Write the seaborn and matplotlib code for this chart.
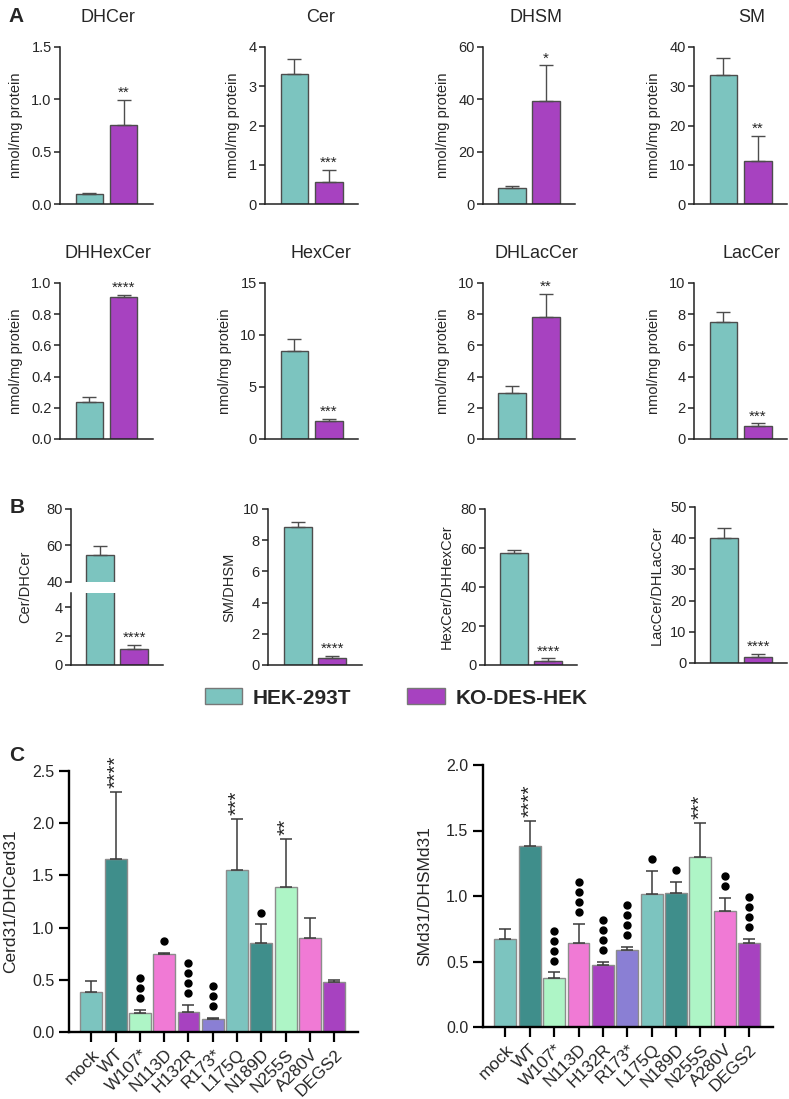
import matplotlib
matplotlib.use('Agg')
import matplotlib.pyplot as plt
import matplotlib.transforms as mtransforms
from matplotlib.patches import Patch
import seaborn as sns

sns.set_style('ticks')
plt.rcParams['font.family'] = ['Liberation Sans', 'DejaVu Sans']

# ---- data ----
groups = ['HEK-293T', 'KO-DES-HEK']

# panel A: nmol/mg protein
lipids = ['DHCer', 'Cer', 'DHSM', 'SM', 'DHHexCer', 'HexCer', 'DHLacCer', 'LacCer']
hek_A = [0.10, 3.31, 6.0, 32.9, 0.235, 8.49, 2.93, 7.48]
hek_A_err = [0.005, 0.38, 0.9, 4.3, 0.035, 1.1, 0.49, 0.66]
ko_A = [0.755, 0.57, 39.4, 11.0, 0.912, 1.73, 7.84, 0.81]
ko_A_err = [0.24, 0.30, 13.6, 6.3, 0.01, 0.2, 1.47, 0.19]
sig_A = ['**', '***', '*', '**', '****', '***', '**', '***']

# panel B: ratios
ratios = ['Cer/DHCer', 'SM/DHSM', 'HexCer/DHHexCer', 'LacCer/DHLacCer']
hek_B = [55.0, 8.87, 57.6, 40.0]
hek_B_err = [4.7, 0.32, 1.5, 3.2]
ko_B = [1.08, 0.43, 2.2, 1.9]
ko_B_err = [0.32, 0.17, 1.2, 0.9]
sig_B = ['****', '****', '****', '****']

# panel C: d31 ratios per construct
mutants = ['mock', 'WT', 'W107*', 'N113D', 'H132R', 'R173*', 'L175Q', 'N189D', 'N255S', 'A280V', 'DEGS2']
cer_ratio = [0.38, 1.66, 0.185, 0.744, 0.19, 0.12, 1.55, 0.85, 1.39, 0.90, 0.476]
cer_err = [0.11, 0.64, 0.025, 0.016, 0.07, 0.017, 0.49, 0.18, 0.46, 0.19, 0.025]
cer_stars = ['', '****', '', '', '', '', '***', '', '**', '', '']
cer_dots = [0, 0, 3, 1, 4, 3, 0, 1, 0, 0, 0]
sm_ratio = [0.67, 1.384, 0.372, 0.644, 0.476, 0.585, 1.018, 1.025, 1.295, 0.888, 0.639]
sm_err = [0.08, 0.19, 0.045, 0.14, 0.02, 0.025, 0.175, 0.08, 0.26, 0.10, 0.035]
sm_stars = ['', '****', '', '', '', '', '', '', '***', '', '']
sm_dots = [0, 0, 4, 4, 4, 4, 1, 1, 0, 2, 4]

teal = '#7cc4bf'
purple = '#a742c0'
mut_colors = ['#7cc4bf', '#3f8e8b', '#aef5c6', '#f07ad5', '#a742c0', '#8a7fd4',
              '#7cc4bf', '#3f8e8b', '#aef5c6', '#f07ad5', '#a742c0']
edge = '#4d4d4d'

W, H = 789, 1099
fig = plt.figure(figsize=(W / 100, H / 100), dpi=100)


def rect(x0, y0, x1, y1):
    return [x0 / W, 1 - y1 / H, (x1 - x0) / W, (y1 - y0) / H]


def style_small(ax):
    sns.despine(ax=ax)
    for s in ['left', 'bottom']:
        ax.spines[s].set_linewidth(1.1)
        ax.spines[s].set_color('#222222')
    ax.tick_params(axis='y', length=4, width=1.1, labelsize=10.5, pad=2, color='#222222')
    ax.set_xticks([])
    ax.set_xlim(-0.85, 1.85)


def pair_bars(ax, vals, errs, sig, star=True):
    sns.barplot(x=groups, y=vals, hue=groups, palette=[teal, purple], legend=False, saturation=1,
                width=0.8, edgecolor=edge, linewidth=1, errorbar=None, ax=ax)
    ax.errorbar([0, 1], vals, yerr=[[0, 0], errs], fmt='none', ecolor=edge,
                elinewidth=1, capsize=5, capthick=1)
    if star:
        ax.annotate(sig, xy=(1, vals[1] + errs[1]), xytext=(0, 0), textcoords='offset points',
                    ha='center', va='bottom', fontsize=11)
    ax.set_xlabel('')


# ---- panel A ----
col_x = [(60, 153), (265, 358), (483, 575), (694, 787)]
row_y = [(47, 204), (283, 439)]
a_ylims = [(0, 1.5), (0, 4), (0, 60), (0, 40), (0, 1.0), (0, 15), (0, 10), (0, 10)]
a_ticks = [[0, 0.5, 1.0, 1.5], [0, 1, 2, 3, 4], [0, 20, 40, 60], [0, 10, 20, 30, 40],
           [0, 0.2, 0.4, 0.6, 0.8, 1.0], [0, 5, 10, 15], [0, 2, 4, 6, 8, 10], [0, 2, 4, 6, 8, 10]]
title_x = [0.52, 0.6, 0.58, 0.62]
for i, name in enumerate(lipids):
    r, c = divmod(i, 4)
    ax = fig.add_axes(rect(col_x[c][0], row_y[r][0], col_x[c][1], row_y[r][1]))
    pair_bars(ax, [hek_A[i], ko_A[i]], [hek_A_err[i], ko_A_err[i]], sig_A[i])
    style_small(ax)
    ax.set_ylim(a_ylims[i])
    ax.set_yticks(a_ticks[i])
    ax.set_ylabel('nmol/mg protein', fontsize=10.5, labelpad=6)
    ax.set_title(name, fontsize=13, pad=18, x=title_x[c])

# ---- panel B ----
b_x = [(71, 163), (268, 362), (485, 577), (695, 787)]
b_ylims = [None, (0, 10), (0, 80), (0, 50)]
b_ticks = [None, [0, 2, 4, 6, 8, 10], [0, 20, 40, 60, 80], [0, 10, 20, 30, 40, 50]]
for i, name in enumerate(ratios):
    x0, x1 = b_x[i]
    if i == 0:
        # broken axis
        ax_hi = fig.add_axes(rect(x0, 509, x1, 582))
        ax_lo = fig.add_axes(rect(x0, 593, x1, 665))
        pair_bars(ax_hi, [hek_B[i], ko_B[i]], [hek_B_err[i], ko_B_err[i]], sig_B[i], star=False)
        pair_bars(ax_lo, [hek_B[i], ko_B[i]], [hek_B_err[i], ko_B_err[i]], sig_B[i])
        style_small(ax_hi)
        style_small(ax_lo)
        ax_hi.spines['bottom'].set_visible(False)
        ax_hi.set_ylim(40, 80)
        ax_hi.set_yticks([40, 60, 80])
        ax_lo.set_ylim(0, 5)
        ax_lo.set_yticks([0, 2, 4])
        ax_lo.set_ylabel(name, fontsize=10.5)
        ax_lo.yaxis.set_label_coords(-0.42, 1.08)
        ax_hi.set_ylabel('')
    else:
        ax = fig.add_axes(rect(x0, 509 if i < 3 else 507, x1, 665 if i < 3 else 663))
        pair_bars(ax, [hek_B[i], ko_B[i]], [hek_B_err[i], ko_B_err[i]], sig_B[i])
        style_small(ax)
        ax.set_ylim(b_ylims[i])
        ax.set_yticks(b_ticks[i])
        ax.set_ylabel(name, fontsize=10.5, labelpad=5)

# ---- legend ----
handles = [Patch(facecolor=teal, edgecolor='#777777', label=groups[0]),
           Patch(facecolor=purple, edgecolor='#777777', label=groups[1])]
fig.legend(handles=handles, loc='center', bbox_to_anchor=(396 / W, 1 - 698 / H), ncol=2,
           frameon=False, prop={'weight': 'bold', 'size': 15}, handlelength=1.8,
           handleheight=0.8, handletextpad=0.5, columnspacing=2.7)


# ---- panel C ----
def mutant_bars(ax, vals, errs, stars, dots, ylim, label):
    sns.barplot(x=mutants, y=vals, hue=mutants, palette=mut_colors, legend=False, saturation=1,
                width=0.9, edgecolor='#8c8c8c', linewidth=1, errorbar=None, ax=ax)
    ax.errorbar(range(len(mutants)), vals, yerr=[[0] * len(errs), errs], fmt='none',
                ecolor='#3a3a3a', elinewidth=1.1, capsize=4, capthick=1.1)
    for i, (v, e) in enumerate(zip(vals, errs)):
        top = v + e
        if stars[i]:
            ax.annotate(stars[i], xy=(i, top), xytext=(0, 3), textcoords='offset points',
                        rotation=90, ha='center', va='bottom', fontsize=15)
        for k in range(dots[i]):
            tr = mtransforms.offset_copy(ax.transData, fig=fig, x=0, y=8.5 + 7.2 * k, units='points')
            ax.plot(i, top, 'o', color='black', ms=5, transform=tr, clip_on=False)
    sns.despine(ax=ax)
    for s in ['left', 'bottom']:
        ax.spines[s].set_linewidth(1.7)
        ax.spines[s].set_color('black')
    ax.tick_params(length=7, width=1.6, labelsize=11.5, color='black')
    ax.set_xlim(-0.92, len(mutants) - 1 + 0.98)
    ax.set_ylim(ylim)
    ax.set_yticks([j * 0.5 for j in range(int(ylim[1] / 0.5) + 1)])
    ax.set_xlabel('')
    ax.set_ylabel(label, fontsize=12.5, labelpad=10)
    plt.setp(ax.get_xticklabels(), rotation=45, ha='right', rotation_mode='anchor', fontsize=12.5)


axc1 = fig.add_axes(rect(69, 771, 358, 1032))
mutant_bars(axc1, cer_ratio, cer_err, cer_stars, cer_dots, (0, 2.5), 'Cerd31/DHCerd31')
axc2 = fig.add_axes(rect(483, 765, 773, 1027))
mutant_bars(axc2, sm_ratio, sm_err, sm_stars, sm_dots, (0, 2.0), 'SMd31/DHSMd31')

# panel letters
fig.text(8 / W, 1 - 22 / H, 'A', fontsize=15, weight='bold')
fig.text(10 / W, 1 - 513 / H, 'B', fontsize=15, weight='bold')
fig.text(9 / W, 1 - 761 / H, 'C', fontsize=15, weight='bold')

fig.savefig('out.png', dpi=100)
